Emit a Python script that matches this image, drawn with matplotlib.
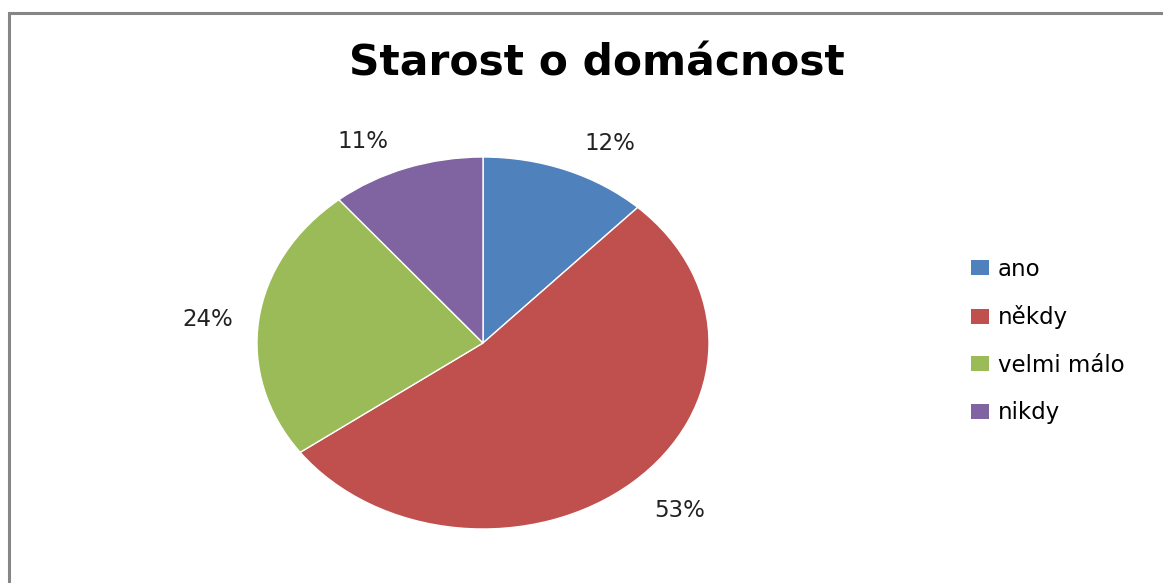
import matplotlib.pyplot as plt
from matplotlib.patches import Patch, Rectangle

categories = ["ano", "někdy", "velmi málo", "nikdy"]
values = [12, 53, 24, 11]
colors = ["#4F81BD", "#C0504D", "#9BBB59", "#8064A2"]
title = "Starost o domácnost"

W, H = 1163, 583
plt.rcParams["font.family"] = ["DejaVu Sans"]

fig = plt.figure(figsize=(W / 100, H / 100), dpi=100)

# frame of the chart area (only top and left edges visible)
fig.patches.append(Rectangle((9 / W, -0.1), 1.2, (H - 13) / H + 0.1,
                             transform=fig.transFigure, fill=False,
                             edgecolor="#868686", linewidth=2.2))

# elliptical pie: axes in pixels, aspect auto
cx, cy, rx, ry = 483, 343, 226, 186
ax = fig.add_axes([(cx - rx) / W, (H - cy - ry) / H, 2 * rx / W, 2 * ry / H])
wedges, texts, autotexts = ax.pie(
    values, colors=colors, startangle=90, counterclock=False,
    autopct=lambda p: f"{p:.0f}%", pctdistance=1.24,
    wedgeprops=dict(edgecolor="white", linewidth=1),
    textprops=dict(fontsize=16.5, color="#222222"),
)
# excel-style outside-end label spots (axes data units)
label_spots = [(0.56, 1.075), (0.87, -0.90), (-1.22, 0.125), (-0.53, 1.085)]
for t, (lx, ly) in zip(autotexts, label_spots):
    t.set_position((lx, ly))

ax.set_aspect("auto")
ax.set_xlim(-1, 1)
ax.set_ylim(-1, 1)
ax.axis("off")

fig.text(597 / W, 1 - 63 / H, title, ha="center", va="center",
         fontsize=30.5, fontweight="bold")

handles = [Patch(facecolor=c, edgecolor="none") for c in colors]
fig.legend(handles, categories, loc="center left",
           bbox_to_anchor=(950 / W, 1 - 341 / H), frameon=False,
           fontsize=16.5, handlelength=0.79, handleheight=0.61,
           handletextpad=0.39, labelspacing=1.07)

plt.savefig("out.png", dpi=100)
